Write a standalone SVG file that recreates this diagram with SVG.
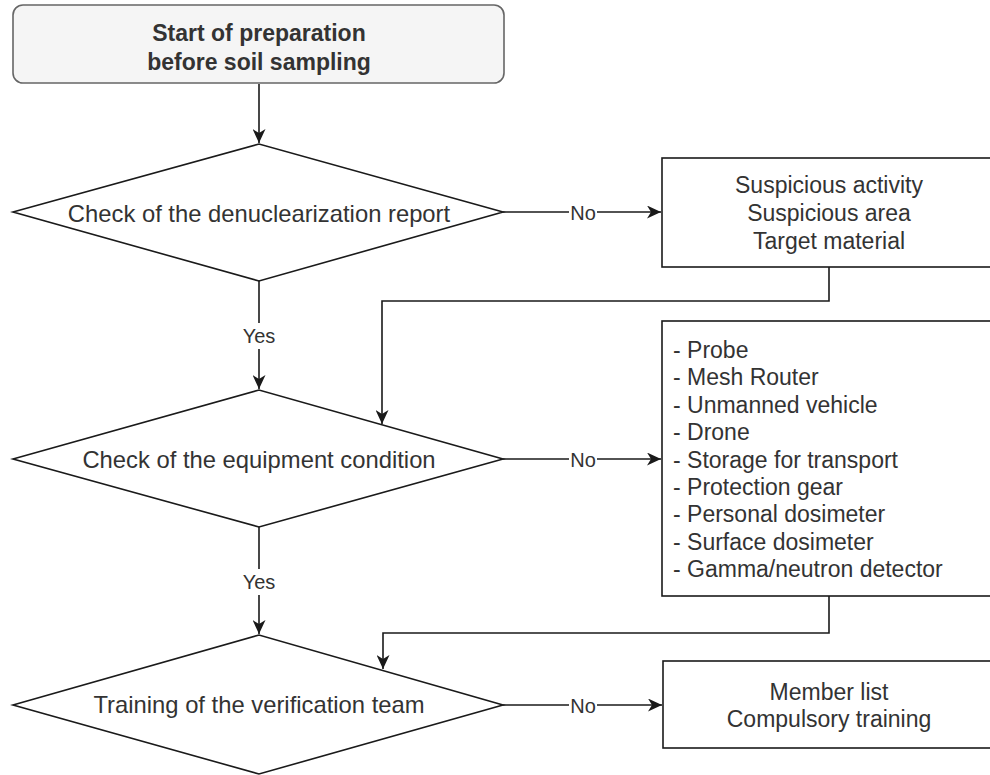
<svg xmlns="http://www.w3.org/2000/svg" width="990" height="775" viewBox="0 0 990 775">
<style>
.t{font-family:"Liberation Sans",Arial,sans-serif;font-size:23px;fill:#333333}
.d{font-size:23.8px}
.c{text-anchor:middle}
.b{font-weight:bold}
.lbl{font-family:"Liberation Sans",Arial,sans-serif;font-size:20px;fill:#333333;text-anchor:middle}
.shape{fill:#ffffff;stroke:#1a1a1a;stroke-width:1.6}
.edge{fill:none;stroke:#1a1a1a;stroke-width:1.6}
</style>
<defs>
<marker id="arr" markerUnits="userSpaceOnUse" markerWidth="15" markerHeight="13" refX="14" refY="6.5" orient="auto">
<path d="M0,0 L14,6.5 L0,13 L4,6.5 z" fill="#1a1a1a"/>
</marker>
</defs>
<rect width="990" height="775" fill="#ffffff"/>
<g id="edges">
<path class="edge" d="M259,84 V143" marker-end="url(#arr)"/>
<path class="edge" d="M259,281 V389" marker-end="url(#arr)"/>
<path class="edge" d="M259,527 V634" marker-end="url(#arr)"/>
<path class="edge" d="M503,212 H661" marker-end="url(#arr)"/>
<path class="edge" d="M503,459 H661" marker-end="url(#arr)"/>
<path class="edge" d="M503,705 H662" marker-end="url(#arr)"/>
<path class="edge" d="M829,267 V301 H382 V424" marker-end="url(#arr)"/>
<path class="edge" d="M829,596 V633 H383 V669" marker-end="url(#arr)"/>
<rect x="244" y="323" width="32" height="26" fill="#ffffff"/>
<text class="lbl" x="259" y="343">Yes</text>
<rect x="244" y="569" width="32" height="26" fill="#ffffff"/>
<text class="lbl" x="259" y="589">Yes</text>
<rect x="569" y="200" width="28" height="26" fill="#ffffff"/>
<text class="lbl" x="583" y="220">No</text>
<rect x="569" y="447" width="28" height="26" fill="#ffffff"/>
<text class="lbl" x="583" y="467">No</text>
<rect x="569" y="693" width="28" height="26" fill="#ffffff"/>
<text class="lbl" x="583" y="713">No</text>
</g>
<g id="start">
<rect x="13" y="5" width="491" height="78" rx="10" ry="10" fill="#f5f5f5" stroke="#666666" stroke-width="1.6"/>
<text class="t c b" x="259" y="41">Start of preparation</text>
<text class="t c b" x="259" y="70">before soil sampling</text>
</g>
<g id="check-report">
<polygon class="shape" points="13,212 259,144 503,212 259,281"/>
<text class="t d c" x="259" y="222">Check of the denuclearization report</text>
</g>
<g id="suspicious">
<rect class="shape" x="662" y="158" width="336" height="109"/>
<text class="t c" x="829" y="193">Suspicious activity</text>
<text class="t c" x="829" y="221">Suspicious area</text>
<text class="t c" x="829" y="249">Target material</text>
</g>
<g id="check-equipment">
<polygon class="shape" points="13,459 259,390 503,459 259,527"/>
<text class="t d c" x="259" y="468">Check of the equipment condition</text>
</g>
<g id="equipment-list">
<rect class="shape" x="662" y="321" width="336" height="275"/>
<text class="t" x="673" y="357.5">- Probe</text>
<text class="t" x="673" y="385">- Mesh Router</text>
<text class="t" x="673" y="412.5">- Unmanned vehicle</text>
<text class="t" x="673" y="440">- Drone</text>
<text class="t" x="673" y="467.5">- Storage for transport</text>
<text class="t" x="673" y="495">- Protection gear</text>
<text class="t" x="673" y="522">- Personal dosimeter</text>
<text class="t" x="673" y="549.5">- Surface dosimeter</text>
<text class="t" x="673" y="577">- Gamma/neutron detector</text>
</g>
<g id="training">
<polygon class="shape" points="13,705 259,635 503,705 259,774"/>
<text class="t d c" x="259" y="713">Training of the verification team</text>
</g>
<g id="members">
<rect class="shape" x="663" y="661" width="336" height="87"/>
<text class="t c" x="829" y="700">Member list</text>
<text class="t c" x="829" y="727">Compulsory training</text>
</g>
</svg>
